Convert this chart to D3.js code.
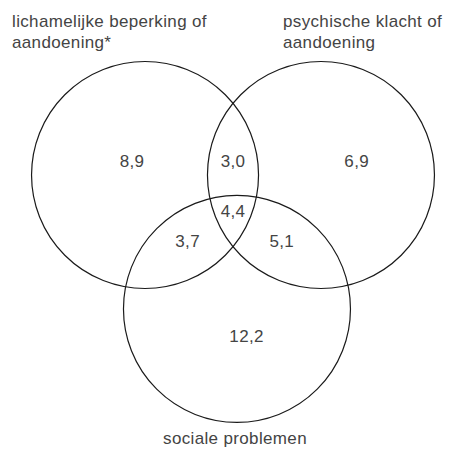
<!DOCTYPE html>
<html>
<head>
<meta charset="utf-8">
<script src="https://cdn.jsdelivr.net/npm/d3@7"></script>
<style>
  html, body { margin: 0; padding: 0; background: #fff; }
  svg { display: block; }
  text { font-family: "Liberation Sans", Arial, Helvetica, sans-serif; fill: #444; letter-spacing: 0.35px; }
</style>
</head>
<body>
<svg></svg>
<script>
// sets en waarden per gebied (percentages)
const sets = ["lichamelijk", "psychisch", "sociaal"];
const setLabels = [
    ["lichamelijke beperking of", "aandoening*"],
    ["psychische klacht of", "aandoening"],
    ["sociale problemen"]
];
const regions = ["L", "P", "S", "LP", "LS", "PS", "LPS"];
const regionValues = [8.9, 6.9, 12.2, 3.0, 3.7, 5.1, 4.4];

const width = 449;
const height = 451;
const svg = d3.select("svg").attr("width", width).attr("height", height);

// layout in eenheden van de straal, omgezet met schalen
const r = 113.5;
const x = d3.scaleLinear().domain([0, 1]).range([233, 233 + r]);
const y = d3.scaleLinear().domain([0, 1]).range([175, 175 + r]);

const circlePos = {
    lichamelijk: [-0.775, 0],
    psychisch: [0.775, 0],
    sociaal: [0.035, 1.18]
};

// plaats van de getallen binnen elk gebied
const regionPos = {
    L: [-0.89, -0.07],
    P: [1.09, -0.07],
    S: [0.12, 1.47],
    LP: [0, -0.07],
    LS: [-0.4, 0.63],
    PS: [0.43, 0.63],
    LPS: [0, 0.37]
};

const fmt = v => d3.format(".1f")(v).replace(".", ",");

// cirkels
svg.selectAll(".set")
    .data(sets)
    .enter()
    .append("circle")
    .attr("class", "set")
    .attr("cx", d => x(circlePos[d][0]))
    .attr("cy", d => y(circlePos[d][1]))
    .attr("r", x(1) - x(0))
    .attr("fill", "none")
    .attr("stroke", "#1a1a1a")
    .attr("stroke-width", 1.2);

// getallen
svg.selectAll(".value")
    .data(regions)
    .enter()
    .append("text")
    .attr("class", "value")
    .attr("x", d => x(regionPos[d][0]))
    .attr("y", d => y(regionPos[d][1]))
    .attr("text-anchor", "middle")
    .attr("font-size", 17)
    .text((d, i) => fmt(regionValues[i]));

// labels van de sets
const labelAnchor = [
    { x: 12, y: 27, anchor: "start" },
    { x: 283, y: 27, anchor: "start" },
    { x: 235, y: 444, anchor: "middle" }
];

setLabels.forEach((lines, i) => {
    const t = svg.append("text")
        .attr("class", "set-label")
        .attr("x", labelAnchor[i].x)
        .attr("y", labelAnchor[i].y)
        .attr("text-anchor", labelAnchor[i].anchor)
        .attr("font-size", 17);
    lines.forEach((line, j) => {
        t.append("tspan")
            .attr("x", labelAnchor[i].x)
            .attr("dy", j === 0 ? 0 : 21)
            .text(line);
    });
});
</script>
</body>
</html>
